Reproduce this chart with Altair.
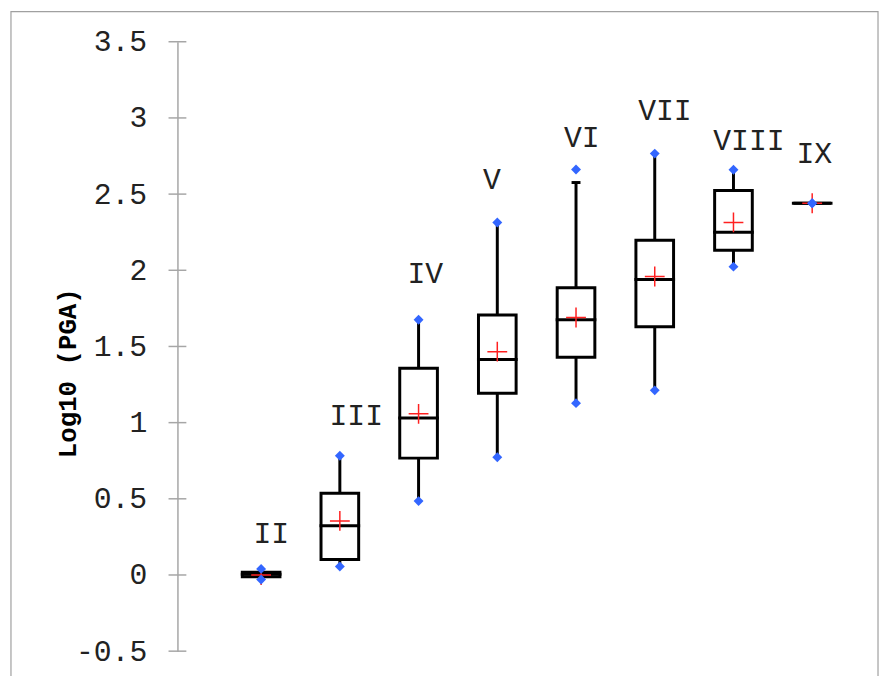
import altair as alt
import pandas as pd

categories = ["II", "III", "IV", "V", "VI", "VII", "VIII", "IX"]
positions = [2, 3, 4, 5, 6, 7, 8, 9]
mins = [-0.03, 0.056, 0.485, 0.773, 1.128, 1.212, 2.024, 2.44]
q1s = [-0.012, 0.102, 0.767, 1.193, 1.429, 1.630, 2.132, 2.44]
medians = [0.005, 0.323, 1.030, 1.414, 1.675, 1.940, 2.249, 2.44]
q3s = [0.018, 0.537, 1.357, 1.706, 1.885, 2.197, 2.524, 2.44]
maxs = [0.04, 0.783, 1.675, 2.314, 2.662, 2.766, 2.660, 2.44]
whisker_hi = [0.04, 0.783, 1.675, 2.314, 2.576, 2.766, 2.660, 2.44]
means = [0.0, 0.355, 1.058, 1.466, 1.690, 1.959, 2.314, 2.44]
label_x = [2.129, 3.208, 4.086, 4.933, 6.074, 7.129, 8.196, 9.027]
label_y = [0.266, 1.045, 1.974, 2.591, 2.870, 3.045, 2.851, 2.766]
y_ticks = [-0.5, 0, 0.5, 1, 1.5, 2, 2.5, 3, 3.5]

df = pd.DataFrame({
    "cat": categories, "pos": positions, "min": mins, "q1": q1s,
    "median": medians, "q3": q3s, "max": maxs, "whi": whisker_hi,
    "mean": means, "lx": label_x, "ly": label_y,
})
ext = pd.DataFrame({
    "pos": positions * 2,
    "v": mins + maxs,
})
ticks_df = pd.DataFrame({"t": y_ticks})

FONT = "Liberation Mono"
yscale = alt.Scale(domain=[-0.5, 3.5], nice=False, zero=False)
xscale = alt.Scale(domain=[1, 9.685], nice=False, zero=False)
yaxis = alt.Axis(
    values=y_ticks, labelExpr="toString(datum.value)", grid=False, ticks=False,
    domainColor="#A6A6A6", domainWidth=1.5, labelFont=FONT, labelFontSize=30,
    labelColor="#222222", labelPadding=31, titleFont=FONT, titleFontSize=26,
    titleFontWeight="bold", titleColor="#000000", titleAngle=270,
    titleX=-111, titleY=334, titleAlign="center", titleBaseline="middle",
)


def Y(field):
    return alt.Y(field, type="quantitative", scale=yscale, axis=yaxis, title="Log10 (PGA)")


def X(field):
    return alt.X(field, type="quantitative", scale=xscale, axis=None)


base = alt.Chart(df)

frame = alt.Chart(pd.DataFrame({"a": [0]})).mark_rect(
    fill="transparent", stroke="#A0A0A0", strokeWidth=1.2, clip=False
).encode(
    x=alt.value(-168), x2=alt.value(707), y=alt.value(-30.5), y2=alt.value(720)
)

axis_ticks = alt.Chart(ticks_df).mark_tick(
    orient="horizontal", size=18, thickness=1.5, color="#A6A6A6", opacity=1
).encode(x=alt.value(0), y=Y("t"))

wlo = base.mark_rule(color="black", strokeWidth=3).encode(
    x=X("pos"), y=Y("min"), y2="q1")
whi = base.mark_rule(color="black", strokeWidth=3).encode(
    x=X("pos"), y=Y("q3"), y2="whi")
box = base.mark_bar(size=38, fill="white", stroke="black", strokeWidth=3, opacity=1).encode(
    x=X("pos"), y=Y("q1"), y2="q3")
med = base.mark_tick(orient="horizontal", size=41, thickness=3, color="black", opacity=1).encode(
    x=X("pos"), y=Y("median"))
cap = base.transform_filter("datum.whi < datum.max").mark_tick(
    orient="horizontal", size=9, thickness=3, color="black", opacity=1).encode(
    x=X("pos"), y=Y("whi"))
mean = base.mark_point(
    shape="M-1,0L1,0M0,-1L0,1", size=400, filled=False, color="#FF2020",
    strokeWidth=1.5, opacity=1).encode(x=X("pos"), y=Y("mean"))
dots = alt.Chart(ext).mark_point(
    shape="diamond", size=100, filled=True, color="#3366FF", opacity=1).encode(
    x=X("pos"), y=Y("v"))
labels = base.mark_text(
    font=FONT, fontSize=30, color="#222222", align="center", baseline="middle").encode(
    x=X("lx"), y=Y("ly"), text="cat:N")

chart = alt.layer(
    frame, axis_ticks, wlo, whi, box, med, cap, mean, dots, labels
).properties(
    width=700, height=615,
    autosize=alt.AutoSizeParams(type="none"),
    padding={"left": 171, "top": 31, "right": 8, "bottom": 22},
).configure_view(strokeWidth=0)

chart.save("out.html", embed_options={"renderer": "svg", "actions": False})
